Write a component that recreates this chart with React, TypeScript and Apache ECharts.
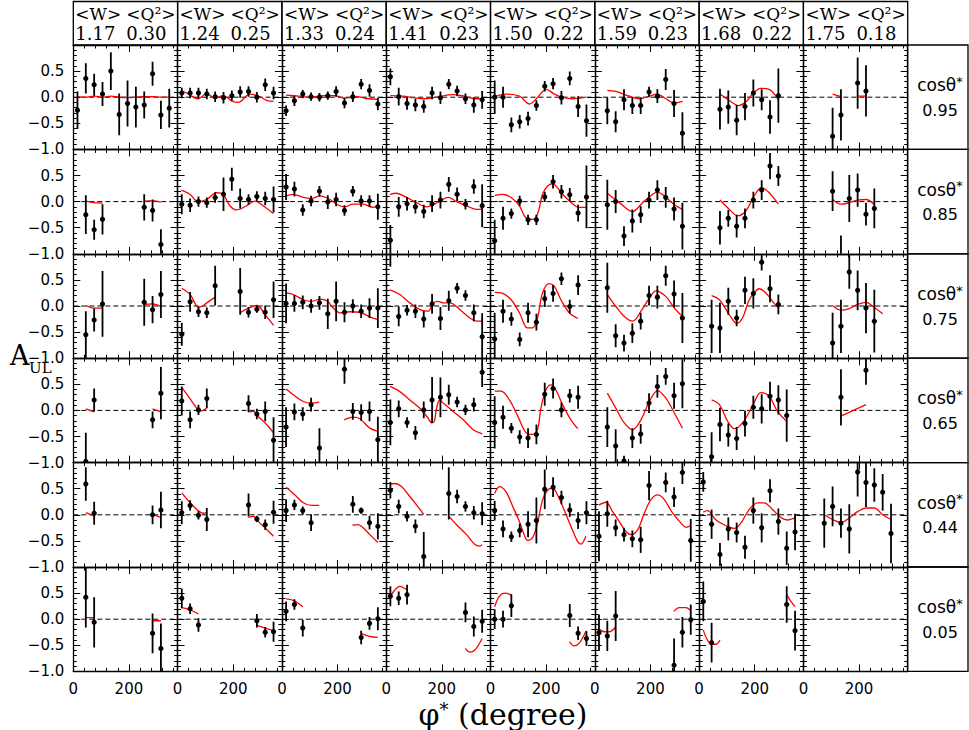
import React, { useEffect, useRef } from 'react';
import * as echarts from 'echarts';

// ---------- header / label data ----------
const W_MEAN = ['1.17', '1.24', '1.33', '1.41', '1.50', '1.59', '1.68', '1.75'];
const Q2_MEAN = ['0.30', '0.25', '0.24', '0.23', '0.22', '0.23', '0.22', '0.18'];
const COS_THETA = ['0.95', '0.85', '0.75', '0.65', '0.44', '0.05'];
const X_TICK_LABELS = [0, 200];
const Y_TICK_LABELS = [-1, -0.5, 0, 0.5];

type Pt = [number, number, number]; // phi, A_UL, error
type Seg = [number, number][];

// ---------- data points per cos(theta*) row, 8 W bins each ----------
const ROW_095_POINTS: Pt[][] = [
  [[15,-0.25,0.36],[45,0.36,0.29],[75,0.24,0.21],[105,0.06,0.23],[135,0.50,0.36],[165,-0.33,0.40],[195,-0.12,0.44],[225,-0.19,0.39],[255,-0.15,0.26],[285,0.45,0.23],[315,-0.34,0.27],[345,-0.21,0.37]],
  [[15,0.08,0.1],[45,0.08,0.1],[75,0.08,0.1],[105,0.06,0.1],[135,0.01,0.1],[165,-0.01,0.11],[195,0.03,0.1],[225,0.10,0.11],[255,0.11,0.1],[285,0.0,0.1],[315,0.24,0.12],[345,0.08,0.12]],
  [[15,-0.26,0.1],[45,-0.07,0.1],[75,0.06,0.08],[105,0.01,0.08],[135,0.0,0.08],[165,0.03,0.08],[195,0.11,0.1],[225,-0.11,0.1],[255,0.01,0.1],[285,0.25,0.1],[315,0.13,0.12],[345,-0.13,0.12]],
  [[15,0.39,0.16],[45,0.01,0.17],[75,-0.12,0.12],[105,-0.15,0.12],[135,-0.18,0.12],[165,0.08,0.12],[195,-0.01,0.12],[225,0.25,0.1],[255,0.12,0.1],[285,-0.03,0.1],[315,-0.15,0.15],[345,-0.05,0.17]],
  [[15,0.0,0.32],[45,0.0,0.2],[75,-0.53,0.14],[105,-0.47,0.13],[135,-0.41,0.13],[165,-0.16,0.1],[195,0.21,0.1],[225,0.26,0.11],[255,-0.01,0.13],[285,0.36,0.13],[315,-0.18,0.2],[345,-0.45,0.31]],
  [[45,-0.26,0.26],[75,-0.47,0.2],[105,-0.05,0.2],[135,-0.16,0.16],[165,-0.16,0.16],[195,0.10,0.1],[225,0.02,0.13],[255,0.34,0.2],[285,-0.12,0.26],[315,-0.69,0.4]],
  [[75,-0.23,0.39],[105,-0.19,0.32],[135,-0.44,0.29],[165,-0.18,0.26],[195,0.08,0.26],[225,-0.05,0.2],[255,-0.38,0.32],[285,0.03,0.52]],
  [[105,-0.75,0.55],[135,-0.34,0.49],[195,0.27,0.49],[225,0.12,0.49]],
];
const ROW_085_POINTS: Pt[][] = [
  [[45,-0.25,0.37],[75,-0.54,0.19],[105,-0.34,0.29],[255,-0.11,0.25],[285,-0.17,0.21],[315,-0.82,0.29]],
  [[15,-0.05,0.19],[45,-0.07,0.13],[75,0.0,0.1],[105,-0.02,0.1],[135,0.08,0.1],[165,0.14,0.32],[195,0.43,0.22],[225,0.06,0.19],[255,0.04,0.1],[285,0.10,0.1],[315,0.06,0.13],[345,0.04,0.25]],
  [[15,0.28,0.25],[45,0.24,0.14],[75,-0.16,0.11],[105,0.01,0.1],[135,0.20,0.1],[165,-0.01,0.13],[195,0.04,0.13],[225,-0.17,0.1],[255,0.20,0.1],[285,0.01,0.11],[315,0.01,0.11],[345,-0.10,0.25]],
  [[15,-0.74,0.29],[45,-0.10,0.19],[75,-0.04,0.13],[105,-0.10,0.13],[135,-0.19,0.13],[165,-0.04,0.16],[195,0.03,0.16],[225,0.33,0.14],[255,0.14,0.13],[285,-0.05,0.1],[315,0.29,0.14],[345,-0.08,0.41]],
  [[15,-0.75,0.4],[45,-0.32,0.22],[75,-0.23,0.1],[105,0.01,0.1],[135,-0.35,0.1],[165,-0.35,0.1],[195,0.09,0.1],[225,0.38,0.13],[255,0.19,0.13],[285,0.13,0.13],[315,-0.22,0.16],[345,0.09,0.6]],
  [[45,-0.06,0.48],[75,0.0,0.22],[105,-0.66,0.19],[135,-0.37,0.22],[165,-0.25,0.16],[195,0.03,0.16],[225,0.22,0.19],[255,0.08,0.2],[285,-0.14,0.22],[315,-0.47,0.45]],
  [[75,-0.50,0.32],[105,-0.32,0.16],[135,-0.47,0.22],[165,-0.32,0.19],[195,0.03,0.16],[225,0.22,0.19],[255,0.68,0.25],[285,0.49,0.19]],
  [[105,0.20,0.38],[135,-1.25,0.6],[165,0.06,0.45],[195,0.22,0.32],[225,-0.24,0.22],[255,-0.13,0.38]],
];
const ROW_075_POINTS: Pt[][] = [
  [[45,-0.55,0.45],[75,-0.27,0.22],[105,0.04,0.63],[255,0.07,0.45],[285,-0.07,0.26],[315,0.22,0.45]],
  [[15,-0.54,0.22],[45,0.08,0.19],[75,-0.11,0.1],[105,-0.13,0.1],[135,0.39,0.38],[225,0.28,0.45],[255,-0.12,0.1],[285,-0.06,0.07],[315,-0.12,0.13],[345,0.12,0.35]],
  [[15,0.05,0.38],[45,0.05,0.16],[75,0.07,0.13],[105,0.0,0.13],[135,0.06,0.13],[165,-0.15,0.29],[195,0.09,0.38],[225,-0.12,0.19],[255,0.0,0.13],[285,-0.10,0.13],[315,-0.04,0.19],[345,-0.04,0.38]],
  [[15,1.1,0.35],[45,-0.20,0.19],[75,-0.08,0.1],[105,-0.10,0.13],[135,-0.25,0.16],[165,0.04,0.19],[195,-0.24,0.22],[225,0.10,0.19],[255,0.34,0.1],[285,0.20,0.1],[315,-0.13,0.16],[345,-0.59,0.45]],
  [[15,-0.63,0.5],[45,-0.10,0.22],[75,-0.25,0.13],[105,-0.64,0.13],[135,-0.13,0.19],[165,-0.31,0.16],[195,0.14,0.16],[225,0.24,0.16],[255,0.52,0.12],[285,-0.01,0.13],[315,0.40,0.19]],
  [[45,0.35,0.48],[75,-0.57,0.22],[105,-0.71,0.16],[135,-0.52,0.19],[165,-0.29,0.16],[195,0.20,0.19],[225,0.17,0.22],[255,0.58,0.19],[285,0.23,0.26],[315,-0.23,0.48]],
  [[45,-0.39,0.51],[75,-0.42,0.48],[105,0.09,0.26],[135,-0.23,0.16],[165,0.30,0.26],[195,0.24,0.29],[225,0.84,0.16],[255,0.33,0.26],[285,0.03,0.19]],
  [[105,-0.71,0.58],[135,-0.39,0.51],[165,0.65,0.32],[195,0.30,0.38],[225,-0.04,0.48],[255,-0.29,0.6]],
];
const ROW_065_POINTS: Pt[][] = [
  [[45,-0.98,0.55],[75,0.20,0.22],[285,-0.18,0.16],[315,0.33,0.5]],
  [[15,0.18,0.28],[45,-0.18,0.16],[75,0.01,0.1],[105,0.23,0.19],[255,0.13,0.16],[285,-0.07,0.1],[315,-0.02,0.19],[345,-0.57,0.44]],
  [[15,-0.32,0.38],[45,-0.03,0.16],[75,-0.07,0.13],[105,0.11,0.13],[135,-0.72,0.38],[225,0.79,0.28],[255,-0.02,0.16],[285,-0.04,0.16],[315,-0.02,0.19],[345,-0.56,0.44]],
  [[15,-0.23,0.44],[45,0.03,0.16],[75,-0.23,0.1],[105,-0.43,0.13],[135,0.01,0.16],[165,0.20,0.44],[195,0.25,0.38],[225,0.30,0.19],[255,0.16,0.1],[285,0.01,0.1],[315,0.11,0.13],[345,0.73,0.28]],
  [[15,-0.23,0.5],[45,-0.13,0.22],[75,-0.34,0.1],[105,-0.51,0.13],[135,-0.53,0.19],[165,-0.46,0.19],[195,0.31,0.22],[225,0.42,0.19],[255,0.01,0.14],[285,0.28,0.13],[315,0.25,0.22]],
  [[45,-0.32,0.38],[75,-0.68,0.32],[105,-0.97,0.1],[135,-0.53,0.19],[165,-0.45,0.19],[195,0.14,0.19],[225,0.46,0.22],[255,0.65,0.16],[285,0.28,0.25],[315,0.51,0.47]],
  [[45,-0.89,0.47],[75,-0.27,0.32],[105,-0.47,0.22],[135,-0.54,0.22],[165,-0.25,0.25],[195,0.06,0.22],[225,0.03,0.28],[255,0.27,0.28],[285,0.20,0.28],[315,-0.10,0.5]],
  [[135,0.25,0.54],[225,0.77,0.28]],
];
const ROW_044_POINTS: Pt[][] = [
  [[45,0.59,0.32],[75,0.03,0.22],[285,0.0,0.18],[315,0.09,0.35]],
  [[15,0.04,0.22],[45,0.18,0.1],[75,-0.01,0.08],[105,-0.09,0.22],[255,0.19,0.22],[285,-0.08,0.06],[315,-0.19,0.1],[345,0.05,0.22]],
  [[15,0.08,0.22],[45,0.19,0.1],[75,0.08,0.08],[105,-0.15,0.16],[255,0.20,0.16],[285,0.08,0.06],[315,-0.15,0.13],[345,-0.22,0.25]],
  [[15,0.47,0.16],[45,0.16,0.13],[75,-0.03,0.1],[105,-0.22,0.13],[135,-0.80,0.47],[225,0.41,0.5],[255,0.35,0.13],[285,0.16,0.1],[315,0.04,0.13],[345,0.02,0.22]],
  [[15,0.08,0.19],[45,-0.27,0.16],[75,-0.42,0.1],[105,-0.30,0.13],[135,-0.18,0.25],[165,-0.11,0.44],[195,0.49,0.38],[225,0.53,0.19],[255,0.33,0.13],[285,0.09,0.13],[315,-0.11,0.16],[345,0.04,0.22]],
  [[15,-0.41,0.48],[45,0.02,0.25],[75,-0.25,0.16],[105,-0.38,0.13],[135,-0.46,0.16],[165,-0.48,0.25],[195,0.56,0.28],[255,0.62,0.19],[285,0.34,0.19],[315,0.81,0.22],[345,-0.49,0.41]],
  [[15,0.63,0.19],[45,-0.18,0.28],[75,-0.76,0.22],[105,-0.27,0.22],[135,-0.34,0.19],[165,-0.62,0.22],[195,0.08,0.25],[225,-0.25,0.28],[255,0.46,0.22],[285,-0.13,0.25],[315,-0.64,0.32],[345,-0.33,0.35]],
  [[75,-0.16,0.47],[105,0.16,0.38],[135,-0.16,0.28],[165,-0.27,0.47],[195,0.82,0.47],[225,0.62,0.47],[255,0.57,0.32],[285,0.43,0.35],[315,-0.36,0.57]],
];
const ROW_005_POINTS: Pt[][] = [
  [[45,0.42,0.58],[75,-0.06,0.48],[285,-0.27,0.38],[315,-0.56,0.48]],
  [[15,0.40,0.19],[45,0.20,0.1],[75,-0.11,0.13],[285,-0.03,0.13],[315,-0.25,0.1],[345,-0.24,0.19]],
  [[15,0.15,0.19],[45,0.28,0.1],[75,-0.17,0.16],[285,-0.35,0.13],[315,-0.08,0.12],[345,0.01,0.22]],
  [[15,0.44,0.19],[45,0.40,0.13],[75,0.47,0.19],[285,0.13,0.19],[315,-0.14,0.19],[345,-0.04,0.22]],
  [[15,0.0,0.19],[45,0.0,0.16],[75,0.26,0.22],[285,0.07,0.22],[315,-0.27,0.13],[345,-0.37,0.14]],
  [[15,-0.26,0.35],[45,-0.32,0.29],[75,0.06,0.48],[285,-0.88,0.51],[315,-0.25,0.29],[345,-0.01,0.29]],
  [[15,0.34,0.38],[45,-0.45,0.38],[315,0.28,0.35],[345,-0.22,0.38]],
  [],
];

// ---------- model curves (segments) ----------
const ROW_095_CURVES: Seg[][] = [
  [[[15,0.01],[45,0.0],[75,0.02],[105,0.0],[135,0.02],[165,0.0],[195,-0.01],[225,0.0],[255,0.01],[285,0.01],[315,0.0],[345,0.0]]],
  [[[15,0.11],[32,0.08],[74,-0.03],[104,0.07],[134,-0.02],[164,0.03],[194,-0.07],[218,-0.10],[260,0.06],[296,0.01],[320,-0.06],[345,-0.08]]],
  [[[15,0.04],[60,0.02],[105,0.0],[150,0.03],[190,0.03],[225,-0.02],[270,0.01],[310,-0.03],[345,-0.04]]],
  [[[15,0.03],[60,0.02],[100,-0.01],[135,-0.03],[180,0.0],[240,0.05],[280,0.02],[320,-0.03],[345,-0.03]]],
  [[[10,0.0],[55,0.06],[104,0.02],[140,-0.13],[170,0.0],[200,0.15],[230,0.06],[259,0.0],[295,-0.03],[343,0.0]]],
  [[[45,0.13],[76,0.11],[124,0.02],[160,-0.03],[196,0.02],[225,0.06],[256,-0.03],[285,-0.11],[316,-0.08]]],
  [[[75,0.06],[105,-0.05],[142,-0.16],[170,-0.08],[192,0.06],[222,0.17],[252,0.15],[285,-0.05]]],
  [[[105,0.06],[135,0.01]],[[195,0.02],[225,0.02]]],
];
const ROW_085_CURVES: Seg[][] = [
  [[[45,0.01],[75,-0.02],[105,-0.03]],[[255,0.01],[285,0.02],[315,-0.01]]],
  [[[14,0.22],[44,0.14],[74,0.0],[104,0.04],[140,0.17],[164,0.14],[188,-0.08],[212,-0.16],[248,-0.08],[278,0.01],[308,-0.08],[344,-0.23]]],
  [[[14,0.11],[41,0.14],[77,0.08],[107,0.06],[137,0.11],[173,0.04],[197,-0.05],[226,-0.10],[256,-0.05],[292,-0.05],[328,-0.11],[345,-0.08]]],
  [[[14,0.14],[37,0.16],[73,0.08],[109,-0.02],[145,-0.10],[169,-0.06],[193,0.01],[223,0.08],[253,0.0],[289,-0.08],[325,-0.15],[345,-0.14]]],
  [[[15,0.12],[44,0.14],[74,0.08],[104,-0.08],[127,-0.31],[151,-0.34],[169,-0.24],[187,0.14],[205,0.30],[223,0.34],[259,0.14],[295,-0.04],[319,-0.11],[343,-0.11]]],
  [[[45,0.16],[88,-0.02],[136,-0.19],[172,-0.02],[208,0.14],[225,0.18],[256,0.08],[286,-0.06],[315,-0.15]]],
  [[[75,0.03],[109,-0.15],[139,-0.27],[168,-0.18],[198,0.11],[225,0.27],[252,0.17],[285,-0.05]]],
  [[[105,0.04],[135,-0.05],[165,-0.02],[195,0.03],[225,0.04],[255,-0.06]]],
];
const ROW_075_CURVES: Seg[][] = [
  [[[45,0.01],[75,-0.04],[105,-0.04]],[[255,0.03],[285,0.04],[315,-0.01]]],
  [[[15,0.34],[45,0.22],[75,-0.02],[86,-0.01],[105,0.06],[135,0.17]],[[225,-0.13],[255,-0.04],[285,0.01],[315,-0.17],[345,-0.37]]],
  [[[14,0.25],[41,0.22],[77,0.12],[107,0.09],[137,0.13],[164,0.09],[185,-0.04],[208,-0.13],[244,-0.11],[280,-0.12],[316,-0.21],[345,-0.26]]],
  [[[14,0.31],[49,0.22],[85,0.06],[121,-0.07],[151,-0.10],[169,0.06],[187,0.09],[205,0.06],[229,0.06],[265,-0.07],[301,-0.23],[325,-0.29],[345,-0.29]]],
  [[[15,0.26],[44,0.24],[74,0.12],[104,-0.13],[133,-0.42],[151,-0.42],[169,-0.23],[187,0.25],[211,0.43],[229,0.38],[253,0.12],[283,-0.13],[314,-0.24]]],
  [[[45,0.22],[76,-0.01],[106,-0.20],[136,-0.29],[166,-0.10],[196,0.15],[220,0.29],[256,0.18],[286,-0.04],[315,-0.20]]],
  [[[45,0.20],[73,0.12],[109,-0.17],[135,-0.33],[156,-0.23],[180,0.12],[198,0.25],[216,0.33],[240,0.25],[264,0.09],[285,-0.04]]],
  [[[105,0.01],[135,-0.08],[165,-0.05],[195,0.03],[225,0.07],[255,-0.03],[285,-0.15]]],
];
const ROW_065_CURVES: Seg[][] = [
  [[[45,0.03],[75,-0.03]],[[285,0.03],[315,-0.03]]],
  [[[15,0.44],[44,0.23],[74,0.01],[86,-0.01],[104,0.04]],[[254,-0.03],[272,-0.02],[296,-0.15],[320,-0.27],[345,-0.43]]],
  [[[15,0.41],[41,0.30],[77,0.17],[107,0.14],[134,0.16]],[[224,-0.18],[256,-0.13],[280,-0.16],[316,-0.34],[345,-0.40]]],
  [[[14,0.46],[49,0.36],[85,0.20],[121,0.04],[151,-0.15],[163,-0.24],[173,-0.21],[181,0.04],[193,0.20],[205,0.14],[241,-0.02],[277,-0.18],[313,-0.37],[345,-0.45]]],
  [[[15,0.37],[38,0.37],[68,0.20],[98,-0.11],[128,-0.43],[151,-0.46],[169,-0.37],[181,0.04],[199,0.39],[217,0.49],[235,0.39],[259,0.11],[289,-0.18],[314,-0.35]]],
  [[[45,0.33],[76,0.04],[106,-0.24],[136,-0.37],[166,-0.18],[196,0.17],[226,0.38],[256,0.23],[286,-0.05],[315,-0.34]]],
  [[[45,0.20],[73,0.11],[103,-0.21],[127,-0.35],[156,-0.24],[192,0.08],[222,0.34],[252,0.27],[282,-0.02],[315,-0.21]]],
  [[[135,-0.11],[225,0.11]]],
];
const ROW_044_CURVES: Seg[][] = [
  [[[45,0.04],[75,-0.02]],[[285,0.01],[315,-0.05]]],
  [[[15,0.42],[45,0.23],[74,0.08],[92,0.03],[104,0.04]],[[254,-0.05],[272,-0.03],[296,-0.16],[320,-0.28],[345,-0.41]]],
  [[[15,0.53],[47,0.38],[77,0.23],[107,0.18],[134,0.18]],[[254,-0.20],[274,-0.19],[292,-0.25],[316,-0.38],[345,-0.53]]],
  [[[15,0.59],[31,0.60],[55,0.54],[85,0.35],[109,0.19],[135,0.01]],[[224,-0.02],[253,-0.19],[289,-0.38],[319,-0.57],[337,-0.60],[345,-0.57]]],
  [[[15,0.41],[32,0.54],[56,0.44],[80,0.16],[104,-0.13],[121,-0.38],[133,-0.49],[151,-0.44],[169,-0.16],[187,0.28],[205,0.47],[223,0.51],[241,0.38],[265,0.09],[289,-0.22],[313,-0.51],[325,-0.56],[343,-0.41]]],
  [[[15,0.19],[40,0.24],[64,0.06],[88,-0.13],[112,-0.32],[130,-0.38],[154,-0.29],[178,0.03],[202,0.29],[226,0.38],[250,0.29],[280,0.03],[310,-0.16],[328,-0.24],[344,-0.21]]],
  [[[15,0.05],[30,0.08],[61,-0.10],[97,-0.21],[127,-0.26],[150,-0.16],[180,0.10],[210,0.23],[234,0.23],[264,0.10],[294,-0.05],[318,-0.10],[345,-0.06]]],
  [[[75,0.0],[105,-0.09],[135,-0.15],[165,-0.06],[195,0.06],[225,0.13],[255,0.13],[285,0.0],[315,-0.09]]],
];
const ROW_005_CURVES: Seg[][] = [
  [[[45,0.03],[75,0.03]],[[285,-0.03],[315,-0.03]]],
  [[[15,0.22],[45,0.18],[75,0.10]],[[285,-0.12],[315,-0.17],[345,-0.22]]],
  [[[15,0.39],[41,0.36],[75,0.24]],[[285,-0.27],[315,-0.33],[345,-0.35]]],
  [[[15,0.44],[31,0.56],[49,0.63],[75,0.56]],[[284,-0.56],[301,-0.63],[319,-0.59],[345,-0.37]]],
  [[[15,0.24],[32,0.44],[50,0.50],[68,0.48],[75,0.44]],[[284,-0.43],[301,-0.51],[319,-0.46],[344,-0.22]]],
  [[[15,-0.19],[34,-0.24],[52,-0.24],[75,-0.15]],[[284,0.15],[304,0.22],[328,0.22],[345,0.16]]],
  [[[15,-0.21],[30,-0.40],[45,-0.48],[60,-0.48],[75,-0.40]],[[315,0.47],[330,0.34],[345,0.24]]],
  [],
];

const ALL_POINTS = [ROW_095_POINTS, ROW_085_POINTS, ROW_075_POINTS, ROW_065_POINTS, ROW_044_POINTS, ROW_005_POINTS];
const ALL_CURVES = [ROW_095_CURVES, ROW_085_CURVES, ROW_075_CURVES, ROW_065_CURVES, ROW_044_CURVES, ROW_005_CURVES];

// ---------- layout ----------
const LEFT = 73.3;
const TOP = 45;
const CW = 104.3;
const RH = 104.4;
const NCOL = 8;
const NROW = 6;
const RIGHT_EDGE = 968;
const BLACK = '#000';
const RED = '#ff0000';
const X_PER_GRID = 4;

function buildOption(): any {
  const grid: any[] = [];
  const xAxis: any[] = [];
  const yAxis: any[] = [];
  const series: any[] = [];
  const graphic: any[] = [];

  for (let r = 0; r < NROW; r++) {
    for (let c = 0; c < NCOL; c++) {
      const g = r * NCOL + c;
      grid.push({ left: LEFT + c * CW, top: TOP + r * RH, width: CW, height: RH });
      const xBase = {
        type: 'value', gridIndex: g, min: 0, max: 375, interval: 40,
        splitLine: { show: false },
        axisLine: { show: true, onZero: false, lineStyle: { color: BLACK, width: 1.3 } },
        axisTick: { show: true, inside: true, length: 3.5, lineStyle: { color: BLACK, width: 1 } },
      };
      xAxis.push({
        ...xBase, position: 'bottom',
        axisLabel: {
          show: r === NROW - 1, color: BLACK, fontFamily: 'DejaVu Sans', fontSize: 15, margin: 10,
          formatter: (v: number) => (X_TICK_LABELS.indexOf(v) >= 0 ? String(v) : ''),
        },
      });
      xAxis.push({ ...xBase, position: 'top', axisLabel: { show: false } });
      // long major ticks at 200
      const xMajor = {
        type: 'value', gridIndex: g, min: 0, max: 375, interval: 200,
        splitLine: { show: false }, axisLabel: { show: false },
        axisLine: { show: false, onZero: false },
        axisTick: { show: true, inside: true, length: 7, lineStyle: { color: BLACK, width: 1 } },
      };
      xAxis.push({ ...xMajor, position: 'bottom' });
      xAxis.push({ ...xMajor, position: 'top' });

      const yBase = {
        type: 'value', gridIndex: g, min: -1, max: 1, interval: 0.5,
        splitLine: { show: false },
        axisLine: { show: true, onZero: false, lineStyle: { color: BLACK, width: 1.3 } },
        axisTick: { show: true, inside: true, length: 7, lineStyle: { color: BLACK, width: 1 } },
        minorTick: { show: true, splitNumber: 5, length: 3.5, lineStyle: { color: BLACK, width: 1 } },
      };
      yAxis.push({
        ...yBase, position: 'left',
        axisLabel: {
          show: c === 0, color: BLACK, fontFamily: 'DejaVu Sans', fontSize: 15, margin: 9,
          formatter: (v: number) => {
            const hit = Y_TICK_LABELS.find((t) => Math.abs(t - v) < 1e-6);
            return hit === undefined ? '' : hit.toFixed(1).replace('-', '\u2212');
          },
        },
      });
      yAxis.push({ ...yBase, position: 'right', axisLabel: { show: false } });

      const xi = X_PER_GRID * g;
      const yi = 2 * g;
      // zero reference
      series.push({
        type: 'line', xAxisIndex: xi, yAxisIndex: yi, silent: true, symbol: 'none',
        data: [[0, 0], [375, 0]],
        lineStyle: { color: BLACK, width: 1, type: [5, 3] }, z: 2,
      });
      // model curves
      for (const seg of ALL_CURVES[r][c]) {
        series.push({
          type: 'line', xAxisIndex: xi, yAxisIndex: yi, silent: true, symbol: 'none',
          smooth: 0.35, data: seg, clip: true,
          lineStyle: { color: RED, width: 1.3 }, z: 3,
        });
      }
      // data points with error bars
      series.push({
        type: 'custom', xAxisIndex: xi, yAxisIndex: yi, silent: true, clip: true, z: 4,
        data: ALL_POINTS[r][c],
        encode: { x: 0, y: 1 },
        renderItem: (params: any, api: any) => {
          const x = api.value(0);
          const y = api.value(1);
          const e = api.value(2);
          const p = api.coord([x, y]);
          const hi = api.coord([x, y + e]);
          const lo = api.coord([x, y - e]);
          return {
            type: 'group',
            children: [
              { type: 'line', shape: { x1: p[0], y1: hi[1], x2: p[0], y2: lo[1] }, style: { stroke: BLACK, lineWidth: 1.8 } },
              { type: 'circle', shape: { cx: p[0], cy: p[1], r: 2.6 }, style: { fill: BLACK } },
            ],
          };
        },
      });
    }
  }

  // header cells
  for (let c = 0; c < NCOL; c++) {
    const x0 = LEFT + c * CW;
    graphic.push({ type: 'rect', shape: { x: x0, y: 1.5, width: CW, height: TOP - 1.5 }, style: { fill: 'none', stroke: BLACK, lineWidth: 1.3 } });
    const txt = (x: number, y: number, text: string, size: number) => ({
      type: 'text', x, y,
      style: { text, fontFamily: 'DejaVu Serif', fontSize: size, fill: BLACK, textAlign: 'left', align: 'left', textVerticalAlign: 'middle', verticalAlign: 'middle' },
    });
    graphic.push(txt(x0 + 2, 14, '<W>', 17));
    graphic.push(txt(x0 + 53, 14, '<Q²>', 17));
    graphic.push(txt(x0 + 2, 33, W_MEAN[c], 18));
    graphic.push(txt(x0 + 53, 33, Q2_MEAN[c], 18));
  }
  // right label cells
  const rx = LEFT + NCOL * CW;
  for (let r = 0; r < NROW; r++) {
    const y0 = TOP + r * RH;
    graphic.push({ type: 'rect', shape: { x: rx, y: y0, width: RIGHT_EDGE - rx, height: RH }, style: { fill: 'none', stroke: BLACK, lineWidth: 1.3 } });
    graphic.push({
      type: 'text', x: 940, y: y0 + RH / 2 - 12,
      style: {
        text: '{a|cosθ}{s|*}', textAlign: 'center', align: 'center', textVerticalAlign: 'middle', verticalAlign: 'middle',
        rich: {
          a: { fontFamily: 'DejaVu Sans', fontSize: 17, fill: BLACK, lineHeight: 21 },
          s: { fontFamily: 'DejaVu Sans', fontSize: 13, fill: BLACK, verticalAlign: 'top', lineHeight: 14 },
        },
      },
    });
    graphic.push({
      type: 'text', x: 940, y: y0 + RH / 2 + 13,
      style: { text: COS_THETA[r], fontFamily: 'DejaVu Sans', fontSize: 16, fill: BLACK, textAlign: 'center', align: 'center', textVerticalAlign: 'middle', verticalAlign: 'middle' },
    });
  }
  // y axis title
  graphic.push({ type: 'text', x: 10, y: 355, style: { text: 'A', fontFamily: 'DejaVu Serif', fontSize: 27, fill: BLACK, textAlign: 'left', align: 'left', textVerticalAlign: 'middle', verticalAlign: 'middle' } });
  graphic.push({ type: 'text', x: 29, y: 368, style: { text: 'UL', fontFamily: 'DejaVu Serif', fontSize: 15, fill: BLACK, textAlign: 'left', align: 'left', textVerticalAlign: 'middle', verticalAlign: 'middle' } });
  // x axis title
  graphic.push({
    type: 'text', x: 503, y: 714,
    style: {
      text: '{a|φ}{s|*}{a| (degree)}', textAlign: 'center', align: 'center', textVerticalAlign: 'middle', verticalAlign: 'middle',
      rich: {
        a: { fontFamily: 'DejaVu Serif', fontSize: 30, fill: BLACK, lineHeight: 28 },
        s: { fontFamily: 'DejaVu Serif', fontSize: 18, fill: BLACK, verticalAlign: 'top', lineHeight: 18 },
      },
    },
  });

  return { animation: false, backgroundColor: '#fff', grid, xAxis, yAxis, series, graphic };
}

export default function App() {
  const ref = useRef<HTMLDivElement>(null);
  useEffect(() => {
    if (!ref.current) return;
    const chart = echarts.init(ref.current, undefined, { renderer: 'svg' });
    chart.setOption(buildOption());
    return () => chart.dispose();
  }, []);
  return <div ref={ref} style={{ position: 'absolute', left: 0, top: 0, width: 969, height: 730 }} />;
}
